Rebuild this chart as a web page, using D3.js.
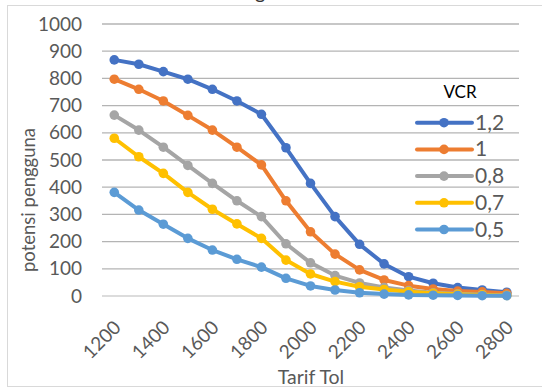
<!DOCTYPE html>
<html>
<head>
<meta charset="utf-8">
<script src="https://cdn.jsdelivr.net/npm/d3@7"></script>
<style>
  body { margin: 0; background: #fff; }
  text { font-family: Lato, "Open Sans", sans-serif; fill: #595959; }
</style>
</head>
<body>
<script>
// tarif tol (x categories)
var tarif = [1200, 1300, 1400, 1500, 1600, 1700, 1800, 1900, 2000, 2100, 2200, 2300, 2400, 2500, 2600, 2700, 2800];
var xTicks = [1200, 1400, 1600, 1800, 2000, 2200, 2400, 2600, 2800];
var yTicks = [0, 100, 200, 300, 400, 500, 600, 700, 800, 900, 1000];

// potensi pengguna per VCR
var vcr12 = [868, 852, 825, 797, 760, 717, 668, 545, 414, 292, 190, 118, 71, 47, 31, 22, 14];
var vcr10 = [797, 760, 717, 664, 610, 547, 482, 350, 236, 154, 96, 59, 38, 26, 18, 15, 10];
var vcr08 = [665, 610, 547, 480, 414, 350, 292, 192, 122, 75, 48, 31, 20, 12, 8, 5, 3];
var vcr07 = [580, 512, 451, 381, 319, 265, 212, 132, 81, 53, 34, 24, 16, 10, 6, 4, 2];
var vcr05 = [381, 316, 264, 212, 169, 135, 106, 65, 37, 22, 12, 7, 4, 3, 2, 1, 1];

var seriesNames = ['1,2', '1', '0,8', '0,7', '0,5'];
var seriesColors = ['#4472C4', '#ED7D31', '#A5A5A5', '#FFC000', '#5B9BD5'];
var seriesVals = [vcr12, vcr10, vcr08, vcr07, vcr05];

var W = 542, H = 387;
var svg = d3.select('body').append('svg').attr('width', W).attr('height', H);

// chart frame
svg.append('rect').attr('x', 7.5).attr('y', 5.5).attr('width', 540).attr('height', 381)
  .attr('fill', '#fff').attr('stroke', '#d9d9d9');

// title (mostly cut off at the top)
svg.append('text').attr('x', 262).attr('y', -1).attr('text-anchor', 'middle')
  .style('font-size', '20px').style('fill', '#333').text('Diagram');

var pLeft = 102, pRight = 519, pTop = 24, pBottom = 296;

var x = d3.scalePoint().domain(tarif).range([pLeft, pRight]).padding(0.5);
var y = d3.scaleLinear().domain([0, 1000]).range([pBottom, pTop]);

// gridlines
svg.append('g').selectAll('line').data(yTicks).enter().append('line')
  .attr('x1', pLeft).attr('x2', pRight)
  .attr('y1', function(d) { return y(d); }).attr('y2', function(d) { return y(d); })
  .attr('stroke', function(d) { return d === 0 ? '#d0d0d0' : '#b4b4b4'; })
  .attr('stroke-width', 1.3);

// y axis labels
var yAxis = d3.axisLeft(y).tickValues(yTicks).tickFormat(d3.format('d')).tickSize(0).tickPadding(0);
var gy = svg.append('g').attr('transform', 'translate(82,0)').call(yAxis);
gy.select('.domain').remove();
gy.selectAll('text').style('font-size', '19px').style('font-family', 'Lato, sans-serif').attr('fill', '#595959');

// x axis labels
svg.append('g').selectAll('text').data(xTicks).enter().append('text')
  .attr('transform', function(d) { return 'translate(' + (x(d) + 3) + ',324) rotate(-45)'; })
  .attr('text-anchor', 'end').attr('dy', '0.35em')
  .style('font-size', '19px').text(function(d) { return d; });

// axis titles
svg.append('text').attr('transform', 'translate(35,200) rotate(-90)')
  .attr('text-anchor', 'middle').style('font-size', '18.5px').text('potensi pengguna');
svg.append('text').attr('x', 311).attr('y', 384).attr('text-anchor', 'middle')
  .style('font-size', '19.5px').text('Tarif Tol');

// lines
var line = d3.line().x(function(d, i) { return x(tarif[i]); }).y(function(d) { return y(d); });

seriesVals.forEach(function(vals, k) {
  var g = svg.append('g');
  g.append('path').datum(vals).attr('d', line)
    .attr('fill', 'none').attr('stroke', seriesColors[k]).attr('stroke-width', 4)
    .attr('stroke-linejoin', 'round').attr('stroke-linecap', 'round');
  g.selectAll('circle').data(vals).enter().append('circle')
    .attr('cx', function(d, i) { return x(tarif[i]); })
    .attr('cy', function(d) { return y(d); })
    .attr('r', 4.8).attr('fill', seriesColors[k]);
});

// legend
var lg = svg.append('g');
lg.append('text').attr('x', 460).attr('y', 98).attr('text-anchor', 'middle')
  .style('font-size', '17px').style('fill', '#000').text('VCR');
seriesNames.forEach(function(name, k) {
  var ly = 122.7 + k * 26.7;
  lg.append('line').attr('x1', 417).attr('x2', 472).attr('y1', ly).attr('y2', ly)
    .attr('stroke', seriesColors[k]).attr('stroke-width', 4).attr('stroke-linecap', 'round');
  lg.append('circle').attr('cx', 444).attr('cy', ly).attr('r', 4.8).attr('fill', seriesColors[k]);
  lg.append('text').attr('x', 475).attr('y', ly + 7).style('font-size', '21px').text(name);
});
</script>
</body>
</html>
